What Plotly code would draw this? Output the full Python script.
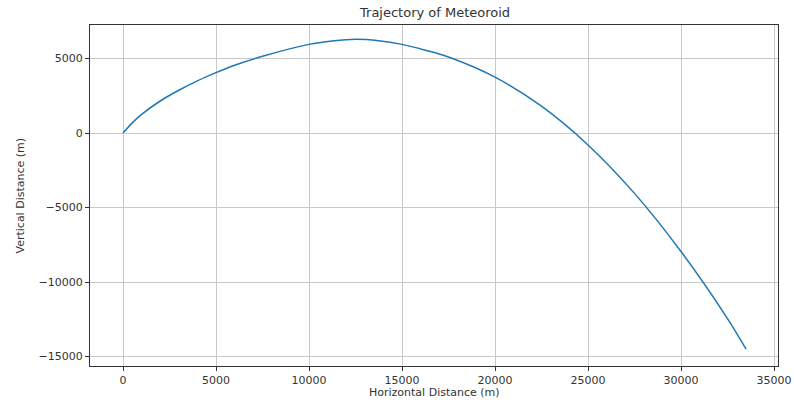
import plotly.graph_objects as go

# Data
horizontal_m = [0, 500, 1000, 2000, 3000, 4000, 5000, 6000, 7500, 10000, 11250,
                12500, 13750, 15000, 16250, 17500, 20000, 22500, 25000, 27500,
                30000, 32500, 33500]
vertical_m = [0, 680, 1250, 2150, 2870, 3500, 4050, 4550, 5150, 5950, 6180,
              6300, 6200, 5950, 5560, 5100, 3750, 1800, -800, -4050,
              -7950, -12450, -14500]

x_ticks = [0, 5000, 10000, 15000, 20000, 25000, 30000, 35000]
x_tick_labels = ["0", "5000", "10000", "15000", "20000", "25000", "30000", "35000"]
y_ticks = [5000, 0, -5000, -10000, -15000]
y_tick_labels = ["5000", "0", "\u22125000", "\u221210000", "\u221215000"]

title_text = "Trajectory of Meteoroid"
x_title = "Horizontal Distance (m)"
y_title = "Vertical Distance (m)"

font_family = "DejaVu Sans, Liberation Sans, sans-serif"
text_color = "#333333"

fig = go.Figure()
fig.add_trace(go.Scatter(
    x=horizontal_m, y=vertical_m, mode="lines",
    line=dict(color="#1f77b4", width=1.5, shape="spline", smoothing=0.8),
    showlegend=False,
))

axis_common = dict(
    automargin=False,
    showline=True, linecolor="#333333", linewidth=1, mirror=True,
    showgrid=True, gridcolor="#c8c8c8", gridwidth=1,
    zeroline=False,
    ticks="outside", ticklen=4, tickcolor="#333333", tickwidth=1,
    tickfont=dict(family=font_family, size=11, color=text_color),
)

fig.update_layout(
    width=794, height=400,
    margin=dict(l=90, r=16, t=25, b=34),
    paper_bgcolor="white", plot_bgcolor="white",
    font=dict(family=font_family, color=text_color),
    xaxis=dict(range=[-1774, 35215], tickmode="array", tickvals=x_ticks,
               ticktext=x_tick_labels, **axis_common),
    yaxis=dict(range=[-15634, 7250], tickmode="array", tickvals=y_ticks,
               ticktext=y_tick_labels, **axis_common),
    annotations=[
        dict(text=title_text, xref="paper", yref="paper", x=0.5, y=1,
             xanchor="center", yanchor="bottom", yshift=3, showarrow=False,
             font=dict(family=font_family, size=13, color=text_color)),
        dict(text=x_title, xref="paper", yref="paper", x=0.5, y=0,
             xanchor="center", yanchor="top", yshift=-18, showarrow=False,
             font=dict(family=font_family, size=11, color=text_color)),
        dict(text=y_title, xref="paper", yref="paper", x=0, y=0.5,
             xanchor="center", yanchor="middle", xshift=-70, textangle=-90,
             showarrow=False,
             font=dict(family=font_family, size=11, color=text_color)),
    ],
)

fig.write_html("out.html",
               config={"displayModeBar": False},
               post_script="document.body.style.margin='0';"
                           "document.body.style.overflow='hidden';")
